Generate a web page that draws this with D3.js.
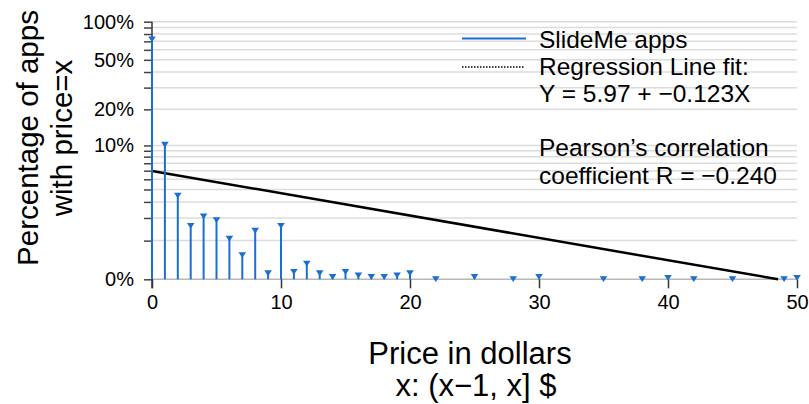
<!DOCTYPE html>
<html><head><meta charset="utf-8">
<script src="https://cdn.jsdelivr.net/npm/d3@7"></script>
<style>
html,body{margin:0;padding:0;background:#fff;}
text{font-family:"Liberation Sans",Arial,sans-serif;fill:#000;}
</style></head>
<body><svg id="c" width="809" height="404"></svg>
<script>
const prices = [0,1,2,3,4,5,6,7,8,9,10,11,12,13,14,15,16,17,18,19,20,22,25,28,30,35,38,40,42,45,49,50];
const percents = [73,10.2,3.5,1.62,2.1,1.9,1.08,0.55,1.4,0.12,1.62,0.15,0.33,0.12,0.05,0.15,0.08,0.05,0.05,0.08,0.12,0.01,0.05,0.01,0.05,0.01,0.01,0.03,0.01,0.01,0.01,0.03];
const regIntercept = 5.97, regSlope = -0.123;
const yGrid = [1,2,3,4,5,6,7,8,9,10,20,30,40,50,60,70,80,90,100];
const yLabelTicks = [0,10,20,50,100];
const xTicks = [0,10,20,30,40,50];
const legendLines = ["SlideMe apps","Regression Line fit:","Y = 5.97 + \u22120.123X","","Pearson\u2019s correlation","coefficient R = \u22120.240"];

const svg = d3.select("#c");
const x = d3.scaleLinear().domain([0,50]).range([152,797]);
const y = d3.scaleSymlog().constant(1).domain([0,100]).range([279.3,21.7]);
const blue = "#1b6fd2";

// gridlines
svg.append("g").selectAll("line").data(yGrid).join("line")
  .attr("x1",x(0)).attr("x2",x(50)).attr("y1",d=>y(d)).attr("y2",d=>y(d))
  .attr("stroke","#dcdcdc").attr("stroke-width",1.5);
// zero baseline
svg.append("line").attr("x1",x(0)).attr("x2",x(50)).attr("y1",y(0)).attr("y2",y(0))
  .attr("stroke","#b8b8b8").attr("stroke-width",1.5);

// y axis
const yAxis = d3.axisLeft(y).tickValues([0].concat(yGrid)).tickSize(8)
  .tickFormat(d=>yLabelTicks.includes(d)?d+"%":"");
const gy = svg.append("g").attr("transform",`translate(${x(0)},0)`).call(yAxis);
gy.select(".domain").attr("stroke","#333").attr("stroke-width",1.5).attr("d",`M0,${y(100)}V${y(0)+9}`);
gy.selectAll(".tick line").attr("stroke","#444").attr("stroke-width",1.5);
gy.selectAll(".tick text").attr("x",-18).attr("font-size",20).attr("font-family","Liberation Sans, Arial, sans-serif").attr("fill","#111");

// x axis
const xAxis = d3.axisBottom(x).tickValues(xTicks).tickSize(9).tickFormat(d3.format("d"));
const gx = svg.append("g").attr("transform",`translate(0,${y(0)})`).call(xAxis);
gx.select(".domain").remove();
gx.selectAll(".tick line").attr("stroke","#333").attr("stroke-width",1.5);
gx.selectAll(".tick text").attr("y",16).attr("font-size",20).attr("font-family","Liberation Sans, Arial, sans-serif").attr("fill","#111");

// regression line
const reg = [[0,regIntercept],[-regIntercept/regSlope,0]];
svg.append("path").datum(reg)
  .attr("d",d3.line().x(d=>x(d[0])).y(d=>y(d[1])))
  .attr("stroke","#000").attr("stroke-width",2.5).attr("fill","none");

// stems
const data = prices.map((p,i)=>({p,v:percents[i]}));
svg.append("g").selectAll("line").data(data).join("line")
  .attr("x1",d=>x(d.p)).attr("x2",d=>x(d.p)).attr("y1",y(0)).attr("y2",d=>y(d.v)-2)
  .attr("stroke",blue).attr("stroke-width",2);
svg.append("g").selectAll("path").data(data).join("path")
  .attr("transform",d=>`translate(${x(d.p)},${y(d.v)})`)
  .attr("d","M-3.8,-2.6L3.8,-2.6L0,3.2Z").attr("fill",blue);

// legend
const lg = svg.append("g");
lg.append("line").attr("x1",462).attr("x2",526).attr("y1",38.5).attr("y2",38.5).attr("stroke",blue).attr("stroke-width",1.8);
lg.append("line").attr("x1",462).attr("x2",525).attr("y1",67).attr("y2",67).attr("stroke","#000").attr("stroke-width",1.5).attr("stroke-dasharray","1.5,1.5");
lg.selectAll("text").data(legendLines).join("text")
  .attr("x",539).attr("y",(d,i)=>47.5+i*27.2).attr("font-size",24.5).text(d=>d);

// axis titles
svg.append("text").attr("x",470).attr("y",364).attr("text-anchor","middle").attr("font-size",31).text("Price in dollars");
svg.append("text").attr("x",476).attr("y",396).attr("text-anchor","middle").attr("font-size",31).text("x: (x\u22121, x] $");
const yt = svg.append("g").attr("transform","translate(0,138) rotate(-90)");
yt.append("text").attr("x",0).attr("y",38).attr("text-anchor","middle").attr("font-size",29.5).text("Percentage of apps");
yt.append("text").attr("x",0).attr("y",72).attr("text-anchor","middle").attr("font-size",29.5).text("with price=x");
</script></body></html>
